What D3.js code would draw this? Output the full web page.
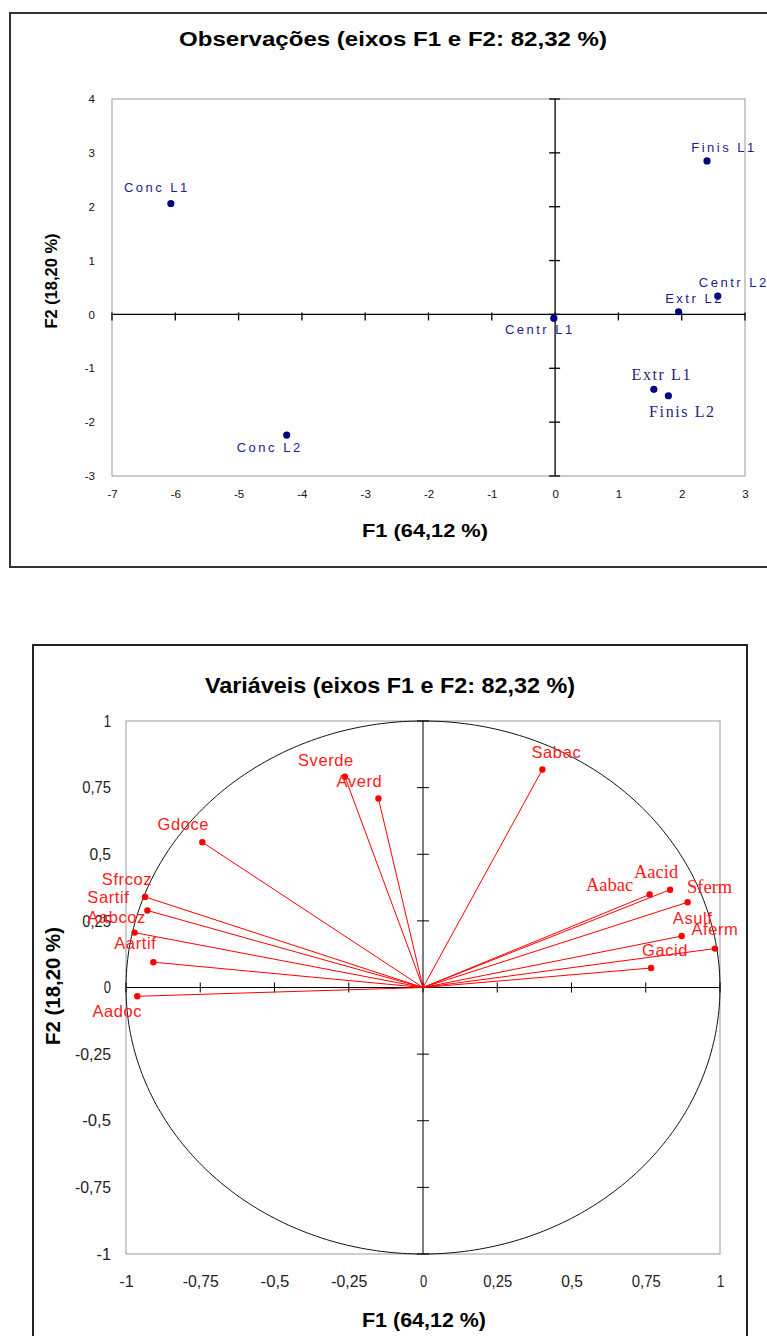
<!DOCTYPE html>
<html>
<head>
<meta charset="utf-8">
<script src="https://cdn.jsdelivr.net/npm/d3@7"></script>
<style>
  body { margin: 0; background: #fff; }
  svg { display: block; }
</style>
</head>
<body>
<script>
// observations (top chart)
const obsNames = ['Conc L1', 'Conc L2', 'Finis L1', 'Centr L2', 'Extr L2', 'Centr L1', 'Extr L1', 'Finis L2'];
const obsF1 = [-6.07, -4.24, 2.40, 2.57, 1.95, -0.02, 1.56, 1.79];
const obsF2 = [2.06, -2.24, 2.85, 0.34, 0.05, -0.07, -1.39, -1.51];
const obsXTicks = [-7, -6, -5, -4, -3, -2, -1, 0, 1, 2, 3];
const obsYTicks = [-3, -2, -1, 0, 1, 2, 3, 4];

// variables (bottom chart)
const varNames = ['Sverde', 'Averd', 'Sabac', 'Gdoce', 'Sfrcoz', 'Sartif', 'Aabcoz', 'Aartif', 'Aadoc',
  'Aabac', 'Aacid', 'Sferm', 'Asulf', 'Aferm', 'Gacid'];
const varF1 = [-0.263, -0.150, 0.402, -0.743, -0.936, -0.928, -0.971, -0.908, -0.962,
  0.763, 0.832, 0.891, 0.871, 0.983, 0.768];
const varF2 = [0.791, 0.709, 0.818, 0.545, 0.340, 0.289, 0.206, 0.095, -0.033,
  0.349, 0.367, 0.320, 0.193, 0.146, 0.073];
const varTicks = [-1, -0.75, -0.5, -0.25, 0, 0.25, 0.5, 0.75, 1];
const varTickLabels = ['-1', '-0,75', '-0,5', '-0,25', '0', '0,25', '0,5', '0,75', '1'];

const sans = 'Liberation Sans, Arial, sans-serif';
const serif = 'Liberation Serif, Times New Roman, serif';

const svg = d3.select('body').append('svg').attr('width', 767).attr('height', 1336);

// ---------- top chart ----------
svg.append('rect')
  .attr('x', 10).attr('y', 13).attr('width', 800).attr('height', 554)
  .attr('fill', 'none').attr('stroke', '#333').attr('stroke-width', 2);

svg.append('text')
  .attr('x', 393).attr('y', 46)
  .attr('text-anchor', 'middle')
  .attr('font-family', sans).attr('font-weight', 'bold').attr('font-size', 20)
  .attr('textLength', 428).attr('lengthAdjust', 'spacingAndGlyphs')
  .text('Observações (eixos F1 e F2: 82,32 %)');

const x1 = d3.scaleLinear().domain([-7, 3]).range([112, 745]);
const y1 = d3.scaleLinear().domain([-3, 4]).range([476, 99]);

const gTop = svg.append('g');

gTop.append('rect')
  .attr('x', x1(-7)).attr('y', y1(4))
  .attr('width', x1(3) - x1(-7)).attr('height', y1(-3) - y1(4))
  .attr('fill', 'none').attr('stroke', '#999');

const xAx1 = d3.axisBottom(x1).tickValues(obsXTicks).tickSize(0).tickPadding(14).tickFormat(d => String(d));
gTop.append('g')
  .attr('transform', `translate(0, ${y1(-3)})`)
  .call(xAx1)
  .call(g => g.select('.domain').remove())
  .selectAll('text')
  .attr('font-family', sans).attr('font-size', 11.5).attr('fill', '#111');

const yAx1 = d3.axisLeft(y1).tickValues(obsYTicks).tickSize(0).tickPadding(17).tickFormat(d => String(d));
gTop.append('g')
  .attr('transform', `translate(${x1(-7)}, 0)`)
  .call(yAx1)
  .call(g => g.select('.domain').remove())
  .selectAll('text')
  .attr('font-family', sans).attr('font-size', 11.5).attr('fill', '#111');

// zero lines with crossing ticks
gTop.append('line')
  .attr('x1', x1(-7)).attr('x2', x1(3)).attr('y1', y1(0)).attr('y2', y1(0))
  .attr('stroke', '#000').attr('stroke-width', 1.3);
gTop.append('line')
  .attr('x1', x1(0)).attr('x2', x1(0)).attr('y1', y1(4)).attr('y2', y1(-3))
  .attr('stroke', '#000').attr('stroke-width', 1.3);
gTop.selectAll('.xt').data(obsXTicks).enter().append('line')
  .attr('x1', d => x1(d)).attr('x2', d => x1(d))
  .attr('y1', y1(0) - 2).attr('y2', y1(0) + 6)
  .attr('stroke', '#000').attr('stroke-width', 1.3);
gTop.selectAll('.yt').data(obsYTicks).enter().append('line')
  .attr('x1', x1(0) - 6).attr('x2', x1(0) + 5)
  .attr('y1', d => y1(d)).attr('y2', d => y1(d))
  .attr('stroke', '#000').attr('stroke-width', 1.3);

gTop.append('text')
  .attr('x', 425).attr('y', 537)
  .attr('text-anchor', 'middle')
  .attr('font-family', sans).attr('font-weight', 'bold').attr('font-size', 18)
  .attr('textLength', 126).attr('lengthAdjust', 'spacingAndGlyphs')
  .text('F1 (64,12 %)');
gTop.append('text')
  .attr('transform', 'translate(57, 281) rotate(-90)')
  .attr('text-anchor', 'middle')
  .attr('font-family', sans).attr('font-weight', 'bold').attr('font-size', 17)
  .attr('textLength', 95).attr('lengthAdjust', 'spacingAndGlyphs')
  .text('F2 (18,20 %)');

const obs = obsNames.map((n, i) => ({ name: n, f1: obsF1[i], f2: obsF2[i] }));

// label placement (pixel offsets from point, serif flag)
const obsLabel = {
  'Conc L1': [-14, -11, 0],
  'Conc L2': [-17, 17, 0],
  'Finis L1': [17, -9, 0],
  'Centr L2': [16, -9, 0],
  'Extr L2': [16, -9, 0],
  'Centr L1': [-14, 16, 0],
  'Extr L1': [8, -9, 1],
  'Finis L2': [14, 21, 1]
};

gTop.selectAll('.obs').data(obs).enter().append('circle')
  .attr('cx', d => x1(d.f1)).attr('cy', d => y1(d.f2)).attr('r', 3.6)
  .attr('fill', '#000080');

gTop.selectAll('.obsl').data(obs).enter().append('text')
  .attr('x', d => x1(d.f1) + obsLabel[d.name][0])
  .attr('y', d => y1(d.f2) + obsLabel[d.name][1])
  .attr('text-anchor', 'middle')
  .attr('font-family', d => obsLabel[d.name][2] ? serif : sans)
  .attr('font-size', d => obsLabel[d.name][2] ? 16 : 13)
  .attr('letter-spacing', d => obsLabel[d.name][2] ? 1.6 : 2.5)
  .attr('fill', d => obsLabel[d.name][2] ? '#2c1f78' : '#1c1c8c')
  .text(d => d.name);

// ---------- bottom chart ----------
svg.append('rect')
  .attr('x', 33).attr('y', 645).attr('width', 714).attr('height', 720)
  .attr('fill', 'none').attr('stroke', '#222').attr('stroke-width', 2);

svg.append('text')
  .attr('x', 390).attr('y', 693)
  .attr('text-anchor', 'middle')
  .attr('font-family', sans).attr('font-weight', 'bold').attr('font-size', 22)
  .attr('textLength', 370).attr('lengthAdjust', 'spacingAndGlyphs')
  .text('Variáveis (eixos F1 e F2: 82,32 %)');

const x2 = d3.scaleLinear().domain([-1, 1]).range([126, 720]);
const y2 = d3.scaleLinear().domain([-1, 1]).range([1254, 721]);

const gBot = svg.append('g');

gBot.append('rect')
  .attr('x', x2(-1)).attr('y', y2(1))
  .attr('width', x2(1) - x2(-1)).attr('height', y2(-1) - y2(1))
  .attr('fill', 'none').attr('stroke', '#999');

const xAx2 = d3.axisBottom(x2).tickValues(varTicks).tickSize(0).tickPadding(22)
  .tickFormat((d, i) => varTickLabels[i]);
gBot.append('g')
  .attr('transform', `translate(0, ${y2(-1)})`)
  .call(xAx2)
  .call(g => g.select('.domain').remove())
  .selectAll('text')
  .attr('font-family', sans).attr('font-size', 16).attr('fill', '#222')
  .attr('textLength', (d, i) => varTickLabels[i].length * 7.2)
  .attr('lengthAdjust', 'spacingAndGlyphs');

const yAx2 = d3.axisLeft(y2).tickValues(varTicks).tickSize(0).tickPadding(15)
  .tickFormat((d, i) => varTickLabels[i]);
gBot.append('g')
  .attr('transform', `translate(${x2(-1)}, 0)`)
  .call(yAx2)
  .call(g => g.select('.domain').remove())
  .selectAll('text')
  .attr('font-family', sans).attr('font-size', 16).attr('fill', '#222')
  .attr('textLength', (d, i) => varTickLabels[i].length * 7.2)
  .attr('lengthAdjust', 'spacingAndGlyphs');

// correlation circle
const circ = d3.line().x(a => x2(Math.cos(a))).y(a => y2(Math.sin(a)));
gBot.append('path')
  .attr('d', circ(d3.range(0, 2 * Math.PI + 0.01, Math.PI / 180)))
  .attr('fill', 'none').attr('stroke', '#111').attr('stroke-width', 1);

gBot.append('line')
  .attr('x1', x2(-1)).attr('x2', x2(1)).attr('y1', y2(0)).attr('y2', y2(0))
  .attr('stroke', '#000').attr('stroke-width', 1);
gBot.append('line')
  .attr('x1', x2(0)).attr('x2', x2(0)).attr('y1', y2(1)).attr('y2', y2(-1))
  .attr('stroke', '#000').attr('stroke-width', 1);
gBot.selectAll('.xt').data(varTicks).enter().append('line')
  .attr('x1', d => x2(d)).attr('x2', d => x2(d))
  .attr('y1', y2(0) - 5).attr('y2', y2(0) + 5)
  .attr('stroke', '#000');
gBot.selectAll('.yt').data(varTicks).enter().append('line')
  .attr('x1', x2(0) - 6).attr('x2', x2(0) + 6)
  .attr('y1', d => y2(d)).attr('y2', d => y2(d))
  .attr('stroke', '#000');

gBot.append('text')
  .attr('x', 424).attr('y', 1327)
  .attr('text-anchor', 'middle')
  .attr('font-family', sans).attr('font-weight', 'bold').attr('font-size', 20)
  .attr('textLength', 124).attr('lengthAdjust', 'spacingAndGlyphs')
  .text('F1 (64,12 %)');
gBot.append('text')
  .attr('transform', 'translate(60, 986) rotate(-90)')
  .attr('text-anchor', 'middle')
  .attr('font-family', sans).attr('font-weight', 'bold').attr('font-size', 20)
  .attr('textLength', 118).attr('lengthAdjust', 'spacingAndGlyphs')
  .text('F2 (18,20 %)');

const vars = varNames.map((n, i) => ({ name: n, f1: varF1[i], f2: varF2[i] }));

const varLabel = {
  'Sverde': [-19, -11, 0],
  'Averd': [-19, -12, 0],
  'Sabac': [14, -12, 0],
  'Gdoce': [-19, -12, 0],
  'Sfrcoz': [-18, -12, 0],
  'Sartif': [-39, -7, 0],
  'Aabcoz': [-18, -10, 0],
  'Aartif': [-18, -13, 0],
  'Aadoc': [-20, 21, 0],
  'Aabac': [-40, -3, 1],
  'Aacid': [-14, -12, 1],
  'Sferm': [22, -9, 1],
  'Asulf': [11, -12, 0],
  'Aferm': [0, -14, 0],
  'Gacid': [14, -12, 0]
};

gBot.selectAll('.vl').data(vars).enter().append('line')
  .attr('x1', x2(0)).attr('y1', y2(0))
  .attr('x2', d => x2(d.f1)).attr('y2', d => y2(d.f2))
  .attr('stroke', '#ff0000').attr('stroke-width', 1);

gBot.selectAll('.vp').data(vars).enter().append('circle')
  .attr('cx', d => x2(d.f1)).attr('cy', d => y2(d.f2)).attr('r', 3.2)
  .attr('fill', '#ff0000');

gBot.selectAll('.vt').data(vars).enter().append('text')
  .attr('x', d => x2(d.f1) + varLabel[d.name][0])
  .attr('y', d => y2(d.f2) + varLabel[d.name][1])
  .attr('text-anchor', 'middle')
  .attr('font-family', d => varLabel[d.name][2] ? serif : sans)
  .attr('font-size', d => varLabel[d.name][2] ? 18.5 : 16.5)
  .attr('letter-spacing', d => varLabel[d.name][2] ? 0 : 0.6)
  .attr('fill', '#ff1a1a')
  .text(d => d.name);
</script>
</body>
</html>
